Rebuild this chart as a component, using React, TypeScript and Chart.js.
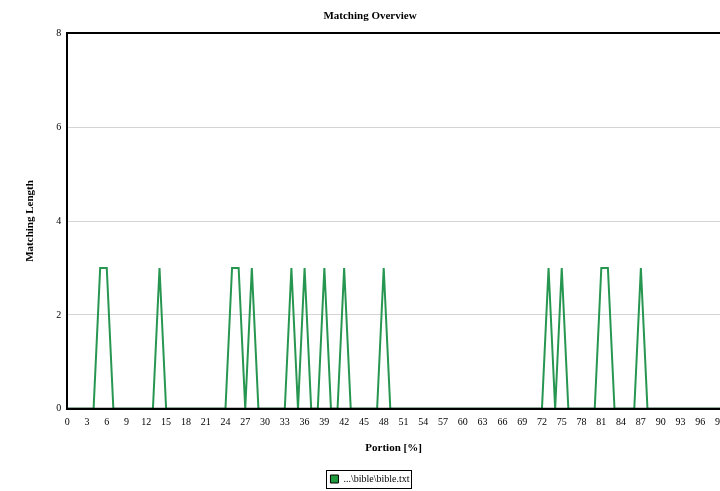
import React, { useEffect, useRef } from "react";
import { Chart, registerables } from "chart.js";

Chart.register(...registerables);

const portionLabels: string[] = [
  "0", "1", "2", "3", "4", "5", "6", "7", "8", "9",
  "10", "11", "12", "13", "14", "15", "16", "17", "18", "19",
  "20", "21", "22", "23", "24", "25", "26", "27", "28", "29",
  "30", "31", "32", "33", "34", "35", "36", "37", "38", "39",
  "40", "41", "42", "43", "44", "45", "46", "47", "48", "49",
  "50", "51", "52", "53", "54", "55", "56", "57", "58", "59",
  "60", "61", "62", "63", "64", "65", "66", "67", "68", "69",
  "70", "71", "72", "73", "74", "75", "76", "77", "78", "79",
  "80", "81", "82", "83", "84", "85", "86", "87", "88", "89",
  "90", "91", "92", "93", "94", "95", "96", "97", "98", "99",
];

const matchingLength: number[] = [
  0, 0, 0, 0, 0, 3, 3, 0, 0, 0,
  0, 0, 0, 0, 3, 0, 0, 0, 0, 0,
  0, 0, 0, 0, 0, 3, 3, 0, 3, 0,
  0, 0, 0, 0, 3, 0, 3, 0, 0, 3,
  0, 0, 3, 0, 0, 0, 0, 0, 3, 0,
  0, 0, 0, 0, 0, 0, 0, 0, 0, 0,
  0, 0, 0, 0, 0, 0, 0, 0, 0, 0,
  0, 0, 0, 3, 0, 3, 0, 0, 0, 0,
  0, 3, 3, 0, 0, 0, 0, 3, 0, 0,
  0, 0, 0, 0, 0, 0, 0, 0, 0, 0,
];

const seriesName = "...\\bible\\bible.txt";
const chartTitle = "Matching Overview";
const xTitle = "Portion [%]";
const yTitle = "Matching Length";

const FONT = "'Liberation Serif', 'DejaVu Serif', serif";
const LINE_COLOR = "#279650";

const bgPlugin = {
  id: "bg",
  beforeDraw(chart: any) {
    const c = chart.ctx;
    c.save();
    c.fillStyle = "#ffffff";
    c.fillRect(0, 0, chart.width, chart.height);
    c.restore();
  },
};

// Redraw the bottom axis line over the dataset so zero segments sit behind it
const axisOverPlugin = {
  id: "axisOver",
  afterDatasetsDraw(chart: any) {
    const a = chart.chartArea;
    const c = chart.ctx;
    c.save();
    c.strokeStyle = "#000";
    c.lineWidth = 2;
    c.beginPath();
    c.moveTo(a.left - 1, a.bottom);
    c.lineTo(a.right, a.bottom);
    c.stroke();
    c.restore();
  },
};

const legendBoxPlugin = {
  id: "legendBox",
  afterDraw(chart: any) {
    const lg = chart.legend;
    if (!lg || !lg.legendHitBoxes || !lg.legendHitBoxes.length) return;
    const hb = lg.legendHitBoxes[0];
    const c = chart.ctx;
    c.save();
    c.strokeStyle = "#000";
    c.lineWidth = 1;
    c.strokeRect(Math.round(hb.left - 4) + 0.5, Math.round(hb.top - 4) + 0.5, Math.round(hb.width + 6), Math.round(hb.height + 8));
    c.restore();
  },
};

export default function App() {
  const ref = useRef<HTMLCanvasElement | null>(null);

  useEffect(() => {
    if (!ref.current) return;
    const chart = new Chart(ref.current, {
      type: "line",
      data: {
        labels: portionLabels,
        datasets: [
          {
            label: seriesName,
            data: matchingLength,
            borderColor: LINE_COLOR,
            backgroundColor: LINE_COLOR,
            borderWidth: 2,
            pointRadius: 0,
            tension: 0,
            fill: false,
          },
        ],
      },
      options: {
        animation: false,
        responsive: false,
        maintainAspectRatio: false,
        layout: { padding: { left: 20, right: 20, top: 0, bottom: -3 } },
        plugins: {
          title: {
            display: true,
            text: chartTitle,
            color: "#000",
            font: { family: FONT, size: 11, weight: "bold" },
            padding: { top: 10, bottom: 10 },
          },
          legend: {
            display: true,
            position: "bottom",
            labels: {
              color: "#000",
              font: { family: FONT, size: 10 },
              boxWidth: 8,
              boxHeight: 8,
              padding: 0,
              generateLabels: (ch: any) => [
                {
                  text: seriesName,
                  fillStyle: "#1f9a3c",
                  strokeStyle: "#000",
                  lineWidth: 1,
                  hidden: false,
                  datasetIndex: 0,
                },
              ],
            },
          },
          tooltip: { enabled: false },
        },
        scales: {
          x: {
            type: "category",
            offset: false,
            grid: { display: false, drawTicks: false },
            border: { display: true, color: "#000", width: 2 },
            ticks: {
              autoSkip: false,
              maxRotation: 0,
              minRotation: 0,
              padding: 8,
              color: "#000",
              font: { family: FONT, size: 10 },
              callback: (v: any, i: number) => (i % 3 === 0 ? portionLabels[i] : ""),
            },
            title: {
              display: true,
              text: xTitle,
              color: "#000",
              font: { family: FONT, size: 11, weight: "bold" },
              padding: { top: 5, bottom: 19 },
            },
          },
          y: {
            min: 0,
            max: 8,
            grid: {
              drawTicks: false,
              color: (ctx: any) => (ctx.tick && (ctx.tick.value === 8 || ctx.tick.value === 0) ? "#000" : "#d4d4d4"),
              lineWidth: (ctx: any) => (ctx.tick && ctx.tick.value === 8 ? 2 : 1),
            },
            border: { display: true, color: "#000", width: 2 },
            ticks: {
              stepSize: 2,
              padding: 6,
              color: "#000",
              font: { family: FONT, size: 10 },
            },
            title: {
              display: true,
              text: yTitle,
              color: "#000",
              font: { family: FONT, size: 11, weight: "bold" },
              padding: { top: 4, bottom: 13 },
            },
          },
        },
      },
      plugins: [bgPlugin, axisOverPlugin, legendBoxPlugin],
    } as any);
    return () => chart.destroy();
  }, []);

  return (
    <div style={{ position: "absolute", left: 0, top: 0, width: 720, height: 491, overflow: "hidden", background: "#fff" }}>
      <canvas ref={ref} width={740} height={491} style={{ display: "block" }} />
    </div>
  );
}
